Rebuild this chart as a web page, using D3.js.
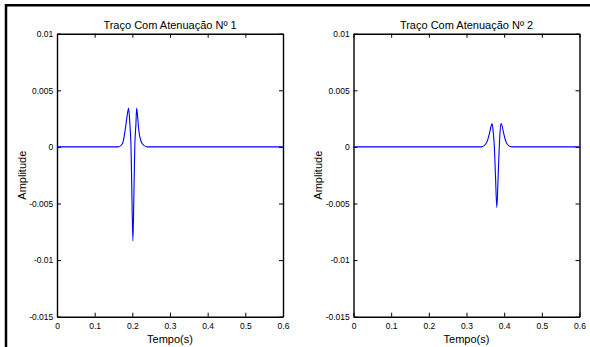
<!DOCTYPE html>
<html>
<head>
<meta charset="utf-8">
<script src="https://cdn.jsdelivr.net/npm/d3@7"></script>
<style>
  body { margin: 0; background: #fff; }
  text { font-family: "Liberation Sans", Arial, Helvetica, sans-serif; fill: #000; }
  .tick text { font-size: 8.5px; }
  .axis path, .axis line { stroke: #000; }
  .axis path { stroke-width: 1.4; }
  .title, .axis-label { font-size: 11px; }
</style>
</head>
<body>
<script>
/*** data ***/

const TITLES = ["Traço Com Atenuação Nº 1", "Traço Com Atenuação Nº 2"];
const X_LABEL = "Tempo(s)";
const Y_LABEL = "Amplitude";

const X_TICKS = [0, 0.1, 0.2, 0.3, 0.4, 0.5, 0.6];
const Y_TICKS = [0.01, 0.005, 0, -0.005, -0.01, -0.015];

// trace 1 : [time (s), amplitude]
const TRACE_1 = [
    [0, 0], [0.163, 0], [0.174, 0.0003], [0.181, 0.0015], [0.186, 0.0027],
    [0.190, 0.0034], [0.1935, 0.002], [0.1965, 0], [0.199, -0.0045], [0.2015, -0.0083],
    [0.204, -0.0045], [0.2065, 0], [0.2095, 0.002], [0.2115, 0.0034], [0.214, 0.0027],
    [0.217, 0.0015], [0.226, 0.0003], [0.239, 0], [0.6, 0]
];

// trace 2 : [time (s), amplitude]
const TRACE_2 = [
    [0, 0], [0.340, 0], [0.352, 0.0003], [0.361, 0.0012], [0.365, 0.0018],
    [0.368, 0.00207], [0.371, 0.0013], [0.374, 0], [0.377, -0.0026], [0.3805, -0.00535],
    [0.384, -0.0026], [0.387, 0], [0.389, 0.0013], [0.392, 0.00207], [0.395, 0.0018],
    [0.398, 0.0013], [0.407, 0.0003], [0.420, 0], [0.6, 0]
];

/*** layout ***/

const WIDTH = 590, HEIGHT = 347;
const PANELS = [
    { left: 57, right: 283, title: TITLES[0], data: TRACE_1 },
    { left: 353.5, right: 579.5, title: TITLES[1], data: TRACE_2 }
];
const PLOT_TOP = 33.7, PLOT_BOTTOM = 316.7;
const TICK_LEN = 4;

const svg = d3.select("body").append("svg")
    .attr("width", WIDTH)
    .attr("height", HEIGHT);

svg.append("rect")
    .attr("width", WIDTH)
    .attr("height", HEIGHT)
    .attr("fill", "#fff");

// figure frame (only top and left edges show)
svg.append("line")
    .attr("x1", 6).attr("y1", 5.3).attr("x2", WIDTH).attr("y2", 5.3)
    .attr("stroke", "#000").attr("stroke-width", 2.5);
svg.append("line")
    .attr("x1", 6).attr("y1", 4).attr("x2", 6).attr("y2", HEIGHT)
    .attr("stroke", "#000").attr("stroke-width", 2.5);

const fmt = d => String(d);

PANELS.forEach(p => {
    const x = d3.scaleLinear().domain([0, 0.6]).range([p.left, p.right]);
    const y = d3.scaleLinear().domain([-0.015, 0.01]).range([PLOT_BOTTOM, PLOT_TOP]);

    const g = svg.append("g");

    // axes, ticks pointing inwards
    g.append("g").attr("class", "axis")
        .attr("transform", `translate(0,${PLOT_BOTTOM})`)
        .call(d3.axisBottom(x).tickValues(X_TICKS).tickFormat(fmt)
            .tickSizeInner(-TICK_LEN).tickSizeOuter(0).tickPadding(6.6));
    g.append("g").attr("class", "axis")
        .attr("transform", `translate(0,${PLOT_TOP})`)
        .call(d3.axisTop(x).tickValues(X_TICKS).tickFormat("")
            .tickSizeInner(-TICK_LEN).tickSizeOuter(0));
    g.append("g").attr("class", "axis")
        .attr("transform", `translate(${p.left},0)`)
        .call(d3.axisLeft(y).tickValues(Y_TICKS).tickFormat(fmt)
            .tickSizeInner(-TICK_LEN).tickSizeOuter(0).tickPadding(3.7));
    g.append("g").attr("class", "axis")
        .attr("transform", `translate(${p.right},0)`)
        .call(d3.axisRight(y).tickValues(Y_TICKS).tickFormat("")
            .tickSizeInner(-TICK_LEN).tickSizeOuter(0));

    g.selectAll(".tick text").attr("font-family", null);

    // trace
    const line = d3.line()
        .x(d => x(d[0]))
        .y(d => y(d[1]))
        .curve(d3.curveMonotoneX);

    g.append("path")
        .datum(p.data)
        .attr("d", line)
        .attr("fill", "none")
        .attr("stroke", "#0000ff")
        .attr("stroke-width", 1.1);

    // labels
    const cx = (p.left + p.right) / 2;
    g.append("text")
        .attr("class", "title")
        .attr("x", cx)
        .attr("y", 29)
        .attr("text-anchor", "middle")
        .text(p.title);

    g.append("text")
        .attr("class", "axis-label")
        .attr("x", cx)
        .attr("y", 342.5)
        .attr("text-anchor", "middle")
        .text(X_LABEL);

    g.append("text")
        .attr("class", "axis-label")
        .attr("transform", `translate(${p.left - 35},${(PLOT_TOP + PLOT_BOTTOM) / 2}) rotate(-90)`)
        .attr("text-anchor", "middle")
        .attr("dy", "0.35em")
        .text(Y_LABEL);
});
</script>
</body>
</html>
